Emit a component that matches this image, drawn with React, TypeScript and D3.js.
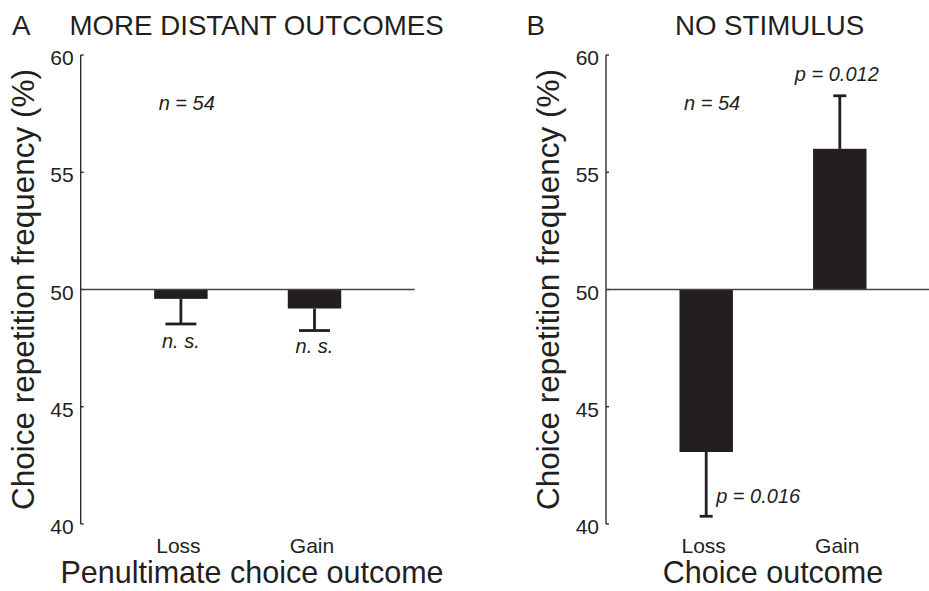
import React from 'react';
import * as d3 from 'd3';

// Outcome categories and y-axis ticks
const categories = ['Loss', 'Gain'];
const yTicks = [40, 45, 50, 55, 60];
const chanceLevel = 50;
const sampleLabel = 'n = 54';

// Panel A: more distant (penultimate) outcomes
const distantMeans = [49.6, 49.19];
const distantErrors = [1.07, 0.94];
const distantStats = ['n. s.', 'n. s.'];

// Panel B: no stimulus
const noStimMeans = [43.07, 56.0];
const noStimErrors = [2.74, 2.26];
const noStimStats = ['p = 0.016', 'p = 0.012'];

const W = 929;
const H = 591;
const INK = '#231f20';
const FONT = '"Liberation Sans", Arial, Helvetica, sans-serif';
const AXIS_W = 334;

const y = d3.scaleLinear().domain([40, 60]).range([524, 55]);

type StatPos = { dx: number; dy: number; anchor: 'start' | 'middle' | 'end' };

type PanelProps = {
  letter: string;
  letterX: number;
  title: string;
  titleX: number;
  axisX: number;
  yLabelX: number;
  xLabel: string;
  xLabelX: number;
  means: number[];
  errors: number[];
  stats: string[];
  statPos: StatPos[];
  capW: number;
};

function Panel(p: PanelProps) {
  const x = d3.scaleLinear().domain([0.25, 2.75]).range([p.axisX, p.axisX + AXIS_W]);
  const bw = x(1.2) - x(0.8);
  return (
    <g fill={INK} fontFamily={FONT}>
      <text x={p.letterX} y={35} fontSize={27.7}>{p.letter}</text>
      <text x={p.titleX} y={35} fontSize={27.7} textAnchor="middle">{p.title}</text>

      {/* y axis */}
      <line x1={p.axisX} x2={p.axisX} y1={y(40)} y2={y(60)} stroke={INK} strokeWidth={1.3} />
      {yTicks.map((t) => (
        <g key={t}>
          <line x1={p.axisX} x2={p.axisX + 3} y1={y(t)} y2={y(t)} stroke={INK} strokeWidth={1.3} />
          <text x={p.axisX - 7} y={y(t) + 10} fontSize={21} textAnchor="end">{t}</text>
        </g>
      ))}
      <text
        transform={`translate(${p.yLabelX},${y(50)}) rotate(-90)`}
        fontSize={31.5}
        textAnchor="middle"
      >
        Choice repetition frequency (%)
      </text>

      {/* bars and error bars */}
      {p.means.map((m, i) => {
        const cx = x(i + 1);
        const dir = m >= chanceLevel ? 1 : -1;
        const end = m + dir * p.errors[i];
        return (
          <g key={i}>
            <line x1={cx} x2={cx} y1={y(m)} y2={y(end)} stroke={INK} strokeWidth={2.8} />
            <line x1={cx - p.capW / 2} x2={cx + p.capW / 2} y1={y(end)} y2={y(end)} stroke={INK} strokeWidth={2.8} />
            <rect
              x={cx - bw / 2}
              y={y(Math.max(m, chanceLevel))}
              width={bw}
              height={Math.abs(y(m) - y(chanceLevel))}
              fill={INK}
            />
            <text
              x={cx + p.statPos[i].dx}
              y={y(end) + p.statPos[i].dy}
              fontSize={20}
              fontStyle="italic"
              textAnchor={p.statPos[i].anchor}
            >
              {p.stats[i]}
            </text>
          </g>
        );
      })}

      {/* chance-level reference line */}
      <line x1={p.axisX} x2={p.axisX + AXIS_W} y1={y(chanceLevel)} y2={y(chanceLevel)} stroke="#444" strokeWidth={1.4} />

      <text x={p.axisX + 78} y={y(57.67)} fontSize={20} fontStyle="italic">{sampleLabel}</text>

      {/* category labels */}
      {categories.map((c, i) => (
        <text key={c} x={x(i + 1) - 2.5} y={553} fontSize={21} textAnchor="middle">{c}</text>
      ))}
      <text x={p.xLabelX} y={583} fontSize={30.5} textAnchor="middle">{p.xLabel}</text>
    </g>
  );
}

export default function App() {
  return (
    <svg
      width={W}
      height={H}
      viewBox={`0 0 ${W} ${H}`}
      style={{ position: 'absolute', left: 0, top: 0, background: '#fff' }}
    >
      <rect width={W} height={H} fill="#fff" />
      <Panel
        letter="A"
        letterX={12}
        title="MORE DISTANT OUTCOMES"
        titleX={256.6}
        axisX={80.7}
        yLabelX={34.3}
        xLabel="Penultimate choice outcome"
        xLabelX={252}
        means={distantMeans}
        errors={distantErrors}
        stats={distantStats}
        statPos={[
          { dx: 0, dy: 24.5, anchor: 'middle' },
          { dx: 0, dy: 22.5, anchor: 'middle' },
        ]}
        capW={31}
      />
      <Panel
        letter="B"
        letterX={526.5}
        title="NO STIMULUS"
        titleX={769.5}
        axisX={606}
        yLabelX={559.4}
        xLabel="Choice outcome"
        xLabelX={773}
        means={noStimMeans}
        errors={noStimErrors}
        stats={noStimStats}
        statPos={[
          { dx: 10, dy: -13, anchor: 'start' },
          { dx: -3, dy: -15, anchor: 'middle' },
        ]}
        capW={13}
      />
    </svg>
  );
}
